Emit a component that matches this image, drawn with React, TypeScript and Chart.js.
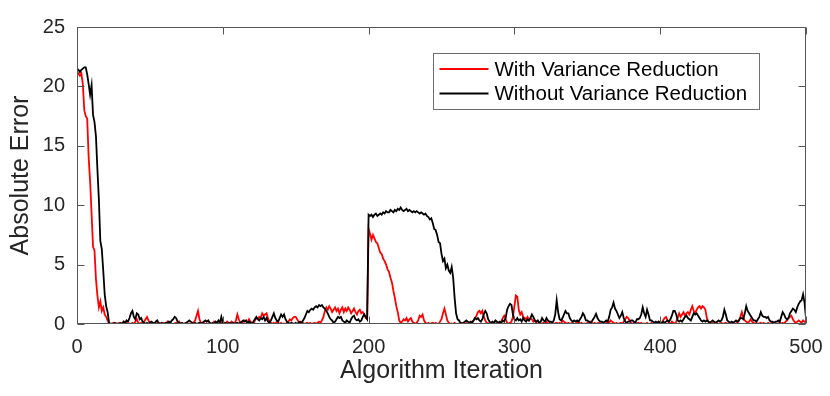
import React, { useEffect, useRef } from "react";
import { Chart, registerables } from "chart.js";

Chart.register(...registerables);

const seriesLabels = ["With Variance Reduction", "Without Variance Reduction"];
const seriesColors = ["#ff0000", "#000000"];
const xTicks = [0, 100, 200, 300, 400, 500];
const yTicks = [0, 5, 10, 15, 20, 25];
const xTitle = "Algorithm Iteration";
const yTitle = "Absolute Error";

// Absolute error per iteration (0..500), with variance reduction
const withVR = [
  21.2, 21.1, 20.9, 21.1, 20.2, 18.0, 17.5, 17.3, 14.0, 12.0, 9.3, 6.5, 6.2, 3.8, 2.4, 1.4, 1.9, 1.1, 1.4, 0.8, 0.6, 0.3, 0.05, 0, 0,
  0.1, 0, 0.05, 0, 0.1, 0, 0, 0.2, 0, 0.1, 0, 0.05, 0, 0.1, 0, 0.2, 0.4, 0.1, 0, 0.1, 0, 0.2, 0.4, 0.6, 0.3,
  0.1, 0, 0.1, 0, 0, 0.1, 0, 0.05, 0, 0.1, 0, 0, 0.2, 0, 0.1, 0, 0, 0.05, 0.1, 0, 0.2, 0, 0.1, 0, 0,
  0.1, 0, 0.05, 0, 0, 0.1, 0.3, 0.7, 1.1, 0.4, 0.1, 0, 0.1, 0, 0.05, 0, 0.1, 0, 0, 0.2, 0, 0.1, 0, 0.05, 0.1,
  0.2, 0.1, 0, 0.2, 0.1, 0, 0.2, 0.1, 0, 0.3, 0.8, 0.4, 0.1, 0, 0.2, 0.3, 0.2, 0.1, 0.4, 0.2, 0.1, 0, 0.3, 0.5, 0.4,
  0.6, 0.5, 0.9, 0.7, 0.8, 0.9, 0.5, 0.2, 0.1, 0, 0.1, 0, 0.2, 0.1, 0, 0.1, 0, 0.05, 0, 0.1, 0.2, 0.4, 0.3, 0.5, 0.6,
  0.6, 0.4, 0.2, 0.1, 0, 0.1, 0, 0.05, 0.1, 0, 0.1, 0, 0.05, 0.1, 0, 0.1, 0.2, 0.1, 0.3, 0.6, 1.1, 1.4, 1.2, 1.5, 1.3,
  1.0, 1.2, 1.4, 1.1, 1.3, 0.9, 1.2, 1.4, 1.0, 1.3, 1.1, 1.4, 1.2, 0.9, 1.1, 1.3, 1.0, 0.8, 1.1, 1.2, 0.9, 1.0, 0.8, 0.5, 0.4,
  8.0, 7.6, 7.1, 7.5, 7.2, 6.9, 6.8, 6.4, 6.0, 5.9, 5.5, 5.3, 5.0, 4.6, 4.4, 3.9, 3.5, 2.8, 2.2, 1.5, 1.0, 0.3, 0.1, 0.2, 0.4,
  0.3, 0.5, 0.2, 0.4, 0.5, 0.2, 0.1, 0, 0.1, 0.3, 0.7, 0.6, 0.8, 0.3, 0.1, 0, 0.1, 0, 0.05, 0.1, 0, 0.1, 0, 0, 0.2,
  0.4, 0.9, 1.3, 0.8, 0.3, 0.1, 0, 0.05, 0, 0.1, 0, 0, 0.05, 0, 0.1, 0, 0, 0.1, 0, 0.05, 0.1, 0.2, 0.3, 0.5, 0.7,
  1.0, 1.1, 0.9, 1.1, 0.6, 0.3, 0.1, 0, 0.1, 0, 0.05, 0.1, 0, 0.1, 0, 0.05, 0.2, 0.5, 0.7, 0.4, 0.1, 0, 0.1, 0.2, 0.6,
  1.5, 2.4, 2.3, 1.2, 0.8, 1.0, 0.6, 0.5, 0.4, 0.6, 0.3, 0.5, 0.4, 0.2, 0.3, 0.1, 0, 0.1, 0, 0.05, 0.1, 0, 0.2, 0, 0.1,
  0, 0.1, 0, 0.05, 0.1, 0, 0.1, 0, 0.3, 0.2, 0.1, 0, 0.1, 0, 0.05, 0.1, 0, 0, 0.1, 0.2, 0, 0.1, 0, 0.05, 0,
  0.1, 0, 0.2, 0.1, 0, 0.1, 0, 0.05, 0.1, 0, 0.1, 0, 0, 0.1, 0.2, 0.1, 0.3, 0.2, 0.1, 0, 0.1, 0, 0.05, 0.1, 0,
  0.2, 0.4, 0.6, 0.5, 0.3, 0.1, 0, 0.1, 0, 0.05, 0.1, 0, 0.1, 0, 0.05, 0, 0.1, 0, 0, 0.1, 0, 0.05, 0.1, 0, 0.2,
  0.1, 0, 0.3, 0.5, 0.6, 0.3, 0.1, 0, 0.2, 0.1, 0, 0.2, 0.5, 0.9, 0.6, 0.8, 1.0, 0.7, 0.9, 1.0, 0.8, 1.2, 1.5, 1.1, 0.9,
  1.2, 1.4, 1.5, 1.3, 1.5, 1.4, 1.2, 0.5, 0.2, 0.1, 0, 0.1, 0, 0.05, 0.1, 0, 0, 0.1, 0, 0.05, 0.1, 0, 0.1, 0, 0,
  0.1, 0, 0.05, 0.1, 0.3, 0.6, 1.0, 0.5, 0.3, 0.2, 0.1, 0.2, 0.4, 0.2, 0.1, 0, 0.1, 0, 0.05, 0.1, 0, 0.1, 0, 0, 0.1,
  0, 0.05, 0.1, 0, 0.1, 0, 0.05, 0.1, 0, 0.1, 0, 0.2, 0.3, 0.5, 0.6, 0.7, 0.4, 0.2, 0.1, 0.2, 0.3, 0.2, 0.1, 0.3, 0.2,
  0.1,
];

// Absolute error per iteration (0..500), without variance reduction
const withoutVR = [
  21.5, 21.4, 21.2, 21.4, 21.5, 21.6, 21.6, 21.0, 20.2, 19.3, 20.1, 17.6, 17.0, 15.8, 13.0, 10.5, 7.0, 6.3, 4.5, 2.5, 1.5, 1.0, 0.1, 0, 0.05,
  0, 0.1, 0, 0.05, 0, 0.1, 0, 0.2, 0.1, 0.3, 0.2, 0.5, 0.9, 1.1, 0.6, 0.4, 0.9, 0.8, 0.4, 0.5, 0.2, 0.1, 0, 0.1, 0,
  0.1, 0.2, 0.1, 0, 0.2, 0.3, 0.1, 0, 0.1, 0, 0.05, 0.1, 0, 0.2, 0.1, 0.3, 0.4, 0.6, 0.5, 0.2, 0.1, 0, 0.1, 0, 0.05,
  0.1, 0.2, 0.3, 0.2, 0.1, 0, 0.1, 0, 0.05, 0.1, 0, 0.1, 0.2, 0.3, 0.2, 0.3, 0.1, 0, 0.1, 0, 0.2, 0.1, 0.3, 0.1, 0.6,
  0.1, 0, 0.1, 0, 0.05, 0.1, 0, 0.1, 0, 0.05, 0.1, 0, 0.1, 0.2, 0.3, 0.2, 0.3, 0.1, 0.2, 0.1, 0, 0.2, 0.4, 0.6, 0.4,
  0.3, 0.5, 0.4, 0.6, 0.3, 0.5, 0.2, 0.1, 0.3, 0.6, 0.9, 0.5, 0.3, 0.2, 0.5, 0.8, 0.6, 0.8, 0.4, 0.2, 0.1, 0, 0.1, 0.05, 0,
  0.1, 0, 0.1, 0.2, 0.1, 0.3, 0.5, 0.8, 1.1, 1.0, 1.2, 1.3, 1.2, 1.4, 1.5, 1.4, 1.6, 1.5, 1.6, 1.4, 1.3, 1.1, 0.9, 0.6, 0.4,
  0.3, 0.1, 0.2, 0.4, 0.6, 0.5, 0.6, 0.3, 0.2, 0.1, 0.3, 0.2, 0.1, 0.4, 0.6, 0.7, 0.4, 0.3, 0.4, 0.2, 0.3, 0.6, 0.8, 0.6, 0.4,
  9.2, 9.1, 9.2, 9.0, 9.2, 9.3, 9.1, 9.2, 9.3, 9.2, 9.4, 9.3, 9.5, 9.4, 9.4, 9.6, 9.5, 9.4, 9.6, 9.5, 9.7, 9.6, 9.8, 9.6, 9.5,
  9.6, 9.7, 9.5, 9.6, 9.5, 9.4, 9.5, 9.4, 9.5, 9.4, 9.3, 9.4, 9.3, 9.2, 9.3, 9.1, 9.0, 8.8, 8.9, 8.5, 8.0, 7.9, 7.5, 6.9, 6.8,
  5.9, 5.3, 5.5, 4.7, 5.0, 4.5, 4.3, 4.8, 3.9, 2.2, 0.9, 0.4, 0.3, 0.1, 0, 0.1, 0.2, 0.3, 0.2, 0.1, 0.2, 0.1, 0.3, 0.5, 0.4,
  0.5, 0.3, 0.2, 0.4, 0.8, 1.1, 0.9, 0.4, 0.2, 0.1, 0.2, 0.1, 0.3, 0.2, 0.1, 0.2, 0.1, 0.3, 0.2, 0.5, 1.2, 1.5, 1.7, 1.6, 0.8,
  0.4, 0.3, 0.5, 0.3, 0.4, 0.2, 0.5, 0.3, 0.2, 0.4, 0.3, 0.5, 0.8, 0.6, 0.3, 0.2, 0.3, 0.1, 0.2, 0.5, 0.3, 0.2, 0.5, 0.3, 0.2,
  0.2, 0.1, 0.3, 0.8, 2.0, 1.0, 0.4, 0.3, 0.5, 0.8, 1.1, 0.9, 0.9, 0.5, 0.3, 0.2, 0.3, 0.2, 0.3, 0.2, 0.4, 0.6, 0.9, 0.7, 0.3,
  0.3, 0.2, 0.1, 0.2, 0.4, 0.6, 0.85, 0.5, 0.3, 0.2, 0.2, 0.1, 0.2, 0.3, 0.2, 0.6, 1.2, 1.4, 1.8, 1.3, 1.1, 0.8, 0.5, 0.7, 1.0,
  0.5, 0.2, 0.1, 0.2, 0.2, 0.3, 0.3, 0.2, 0.1, 0.4, 0.4, 0.5, 0.8, 1.4, 0.9, 0.6, 1.2, 0.8, 0.3, 0.3, 0.2, 0.1, 0.2, 0.1, 0.2,
  0.1, 0.1, 0.2, 0.1, 0.2, 0.3, 0.2, 0.4, 0.7, 1.1, 1.1, 0.8, 0.3, 0.2, 0.3, 0.2, 0.4, 0.6, 0.7, 0.5, 0.4, 0.3, 0.6, 0.9, 0.8,
  0.9, 0.7, 0.5, 0.3, 0.2, 0.3, 0.2, 0.3, 0.2, 0.1, 0.2, 0.3, 0.2, 0.1, 0.2, 0.3, 0.2, 0.3, 0.6, 1.2, 0.8, 0.3, 0.2, 0.1, 0.2,
  0.1, 0.2, 0.3, 0.2, 0.3, 0.5, 0.5, 0.4, 0.9, 1.5, 1.1, 0.9, 0.7, 0.5, 0.3, 0.3, 0.2, 0.4, 0.6, 1.0, 0.7, 0.6, 0.6, 0.5, 0.6,
  0.3, 0.2, 0.2, 0.1, 0.2, 0.2, 0.3, 0.2, 0.6, 1.0, 0.8, 0.5, 0.4, 0.5, 0.9, 1.1, 1.3, 1.2, 1.0, 1.4, 1.7, 1.9, 2.0, 2.5, 1.8,
  0.5,
];

const iterations = withVR.map((_, i) => i);

const FONT = "'Liberation Sans', Arial, Helvetica, sans-serif";
const TEXT_COLOR = "#262626";
const AXIS_COLOR = "#555555";

const framePlugin = {
  id: "matlabFrame",
  afterDatasetsDraw(chart: any) {
    const { ctx, chartArea: a, scales } = chart;
    const xs = scales.x;
    const ys = scales.y;
    ctx.save();
    ctx.strokeStyle = AXIS_COLOR;
    ctx.lineWidth = 1;
    const L = Math.round(a.left) + 0.5;
    const R = Math.round(a.right) - 0.5;
    const T = Math.round(a.top) + 0.5;
    const B = Math.round(a.bottom) - 0.5;
    ctx.strokeRect(L, T, R - L, B - T);
    const tl = 7;
    ctx.beginPath();
    xTicks.forEach((v) => {
      const px = Math.round(xs.getPixelForValue(v)) + 0.5;
      ctx.moveTo(px, B);
      ctx.lineTo(px, B - tl);
      ctx.moveTo(px, T);
      ctx.lineTo(px, T + tl);
    });
    yTicks.forEach((v) => {
      const py = Math.round(ys.getPixelForValue(v)) + 0.5;
      ctx.moveTo(L, py);
      ctx.lineTo(L + tl, py);
      ctx.moveTo(R, py);
      ctx.lineTo(R - tl, py);
    });
    ctx.stroke();

    // legend box
    const bx = Math.round(a.left + 356) + 0.5;
    const by = Math.round(a.top + 26) + 0.5;
    const bw = 326;
    const bh = 56;
    ctx.fillStyle = "#ffffff";
    ctx.fillRect(bx, by, bw, bh);
    ctx.strokeStyle = "#6e6e6e";
    ctx.lineWidth = 1;
    ctx.strokeRect(bx, by, bw, bh);
    ctx.font = "20.5px " + FONT;
    ctx.textBaseline = "middle";
    ctx.textAlign = "left";
    chart.data.datasets.forEach((ds: any, i: number) => {
      const cy = by + 15.5 + i * 24.5;
      ctx.strokeStyle = ds.borderColor;
      ctx.lineWidth = 1.8;
      ctx.beginPath();
      ctx.moveTo(bx + 6, cy);
      ctx.lineTo(bx + 55, cy);
      ctx.stroke();
      ctx.fillStyle = "#000000";
      ctx.fillText(ds.label, bx + 61, cy + 1);
    });
    ctx.restore();
  },
};

export default function App() {
  const canvasRef = useRef<HTMLCanvasElement | null>(null);

  useEffect(() => {
    const canvas = canvasRef.current;
    if (!canvas) return;
    const chart = new Chart(canvas, {
      type: "line",
      data: {
        datasets: [
          {
            label: seriesLabels[0],
            data: withVR.map((v, i) => ({ x: iterations[i], y: v })),
            borderColor: seriesColors[0],
            backgroundColor: seriesColors[0],
            borderWidth: 1.8,
            pointRadius: 0,
            tension: 0,
            order: 1,
          },
          {
            label: seriesLabels[1],
            data: withoutVR.map((v, i) => ({ x: iterations[i], y: v })),
            borderColor: seriesColors[1],
            backgroundColor: seriesColors[1],
            borderWidth: 1.8,
            pointRadius: 0,
            tension: 0,
            order: 0,
          },
        ],
      },
      options: {
        responsive: false,
        animation: false,
        devicePixelRatio: 1,
        layout: { padding: { top: 27, right: 24, left: 0, bottom: 0 } },
        plugins: {
          legend: { display: false },
          tooltip: { enabled: false },
        },
        scales: {
          x: {
            type: "linear",
            min: 0,
            max: 500,
            grid: { display: false, drawTicks: false },
            border: { display: false },
            afterBuildTicks: (s: any) => {
              s.ticks = xTicks.map((v) => ({ value: v }));
            },
            ticks: {
              color: TEXT_COLOR,
              font: { family: FONT, size: 20 },
              padding: 11,
              maxRotation: 0,
              autoSkip: false,
            },
            title: {
              display: true,
              text: xTitle,
              color: TEXT_COLOR,
              font: { family: FONT, size: 25 },
              padding: { top: 0, bottom: 10 },
            },
            afterFit: (s: any) => {
              s.height = 72;
              s.paddingLeft = 0;
              s.paddingRight = 0;
            },
          },
          y: {
            type: "linear",
            min: 0,
            max: 25,
            grid: { display: false, drawTicks: false },
            border: { display: false },
            afterBuildTicks: (s: any) => {
              s.ticks = yTicks.map((v) => ({ value: v }));
            },
            ticks: {
              color: TEXT_COLOR,
              font: { family: FONT, size: 20 },
              padding: 12,
              autoSkip: false,
            },
            title: {
              display: true,
              text: yTitle,
              color: TEXT_COLOR,
              font: { family: FONT, size: 25 },
              padding: { top: 6, bottom: 0 },
            },
            afterFit: (s: any) => {
              s.width = 77;
              s.paddingTop = 0;
              s.paddingBottom = 0;
            },
          },
        },
      },
      plugins: [framePlugin],
    });
    return () => chart.destroy();
  }, []);

  return (
    <div style={{ position: "fixed", left: 0, top: 0, width: 830, height: 396, background: "#ffffff" }}>
      <canvas ref={canvasRef} width={830} height={396} style={{ display: "block" }} />
    </div>
  );
}
